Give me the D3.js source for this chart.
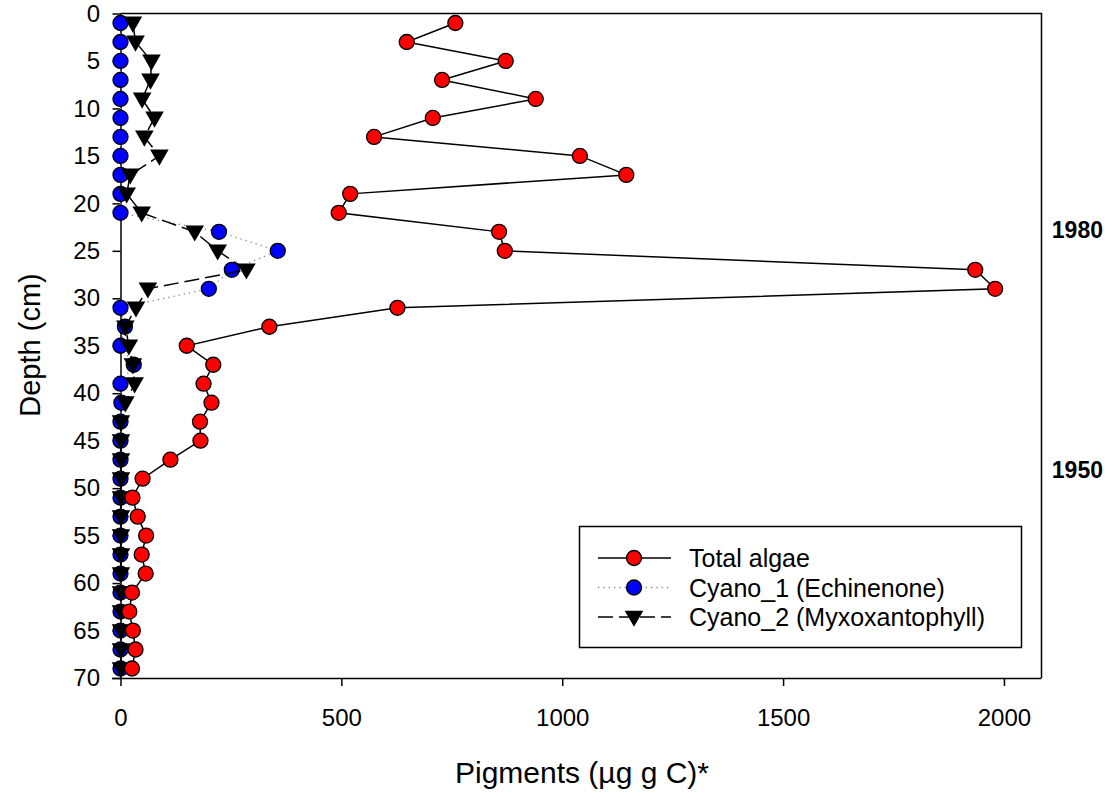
<!DOCTYPE html>
<html>
<head>
<meta charset="utf-8">
<script src="https://cdn.jsdelivr.net/npm/d3@7"></script>
<style>
  body { margin: 0; background: #fff; }
  svg text { font-family: "Liberation Sans", Arial, sans-serif; }
</style>
</head>
<body>
<div id="chart"></div>
<script>
// depth of each slice (cm)
const depths = [1, 3, 5, 7, 9, 11, 13, 15, 17, 19, 21, 23, 25, 27, 29, 31, 33, 35,
                37, 39, 41, 43, 45, 47, 49, 51, 53, 55, 57, 59, 61, 63, 65, 67, 69];

const totalAlgae = [758, 648, 872, 728, 940, 707, 574, 1040, 1145, 520, 494, 857, 870, 1935, 1980, 627,
                    337, 150, 210, 188, 206, 180, 181, 113, 50, 27, 39, 58, 48, 57, 26, 20, 28, 34, 26];

const cyano1 = [0, 0, 0, 0, 0, 0, 0, 0, 0, 0, 0, 223, 356, 252, 200, 0,
                10, 0, 30, 0, 2, 0, 0, 0, 0, 0, 0, 0, 0, 0, 0, 0, 0, 0, 0];

const cyano2 = [28, 34, 70, 68, 49, 77, 54, 88, 22, 14, 48, 168, 220, 285, 62, 35,
                11, 19, 28, 32, 11, 1, 1, 1, 1, 1, 1, 1, 1, 1, 1, 1, 1, 1, 1];

const xTicks = [0, 500, 1000, 1500, 2000];
const yTicks = d3.range(0, 71, 5);

const seriesNames = ["Total algae", "Cyano_1 (Echinenone)", "Cyano_2 (Myxoxantophyll)"];
const yearLabels = [{ year: "1980", depth: 23.6 }, { year: "1950", depth: 48.9 }];

const width = 1113, height = 794;
const svg = d3.select("#chart").append("svg")
    .attr("width", width)
    .attr("height", height);

const x = d3.scaleLinear().domain([0, 2085]).range([120.5, 1041.5]);
const y = d3.scaleLinear().domain([0, 70]).range([13.5, 678]);

// frame (top and right)
svg.append("path")
    .attr("d", `M${x(0)},${y(0)}H${x.range()[1]}V${y(70)}`)
    .attr("fill", "none")
    .attr("stroke", "#000")
    .attr("stroke-width", 1.5);

// axes
const xAxis = svg.append("g")
    .attr("transform", `translate(0,${y(70)})`)
    .call(d3.axisBottom(x).tickValues(xTicks).tickSize(8).tickPadding(23).tickFormat(d3.format("d")));
xAxis.select(".domain").attr("d", `M112,0.5H${x.range()[1]}`);

const yAxis = svg.append("g")
    .attr("transform", `translate(${x(0)},0)`)
    .call(d3.axisLeft(y).tickValues(yTicks).tickSize(8).tickPadding(12.5));
yAxis.select(".domain").attr("d", `M0.5,${y(0)}V${y(70)}`);

svg.selectAll(".tick text").attr("font-size", 24).attr("fill", "#000")
    .style("font-family", "'Liberation Sans', Arial, sans-serif");
svg.selectAll(".tick line, .domain").attr("stroke", "#000").attr("stroke-width", 1.5);

// axis titles
svg.append("text")
    .attr("x", 582).attr("y", 783)
    .attr("text-anchor", "middle")
    .attr("font-size", 30)
    .text("Pigments (µg g C)*");

svg.append("text")
    .attr("transform", `translate(40,345) rotate(-90)`)
    .attr("text-anchor", "middle")
    .attr("font-size", 29)
    .text("Depth (cm)");

// year labels
svg.selectAll(".year")
    .data(yearLabels)
    .join("text")
    .attr("class", "year")
    .attr("x", 1103)
    .attr("y", d => y(d.depth))
    .attr("text-anchor", "end")
    .attr("font-size", 23)
    .attr("font-weight", "bold")
    .text(d => d.year);

const line = vals => d3.line()
    .x((d, i) => x(vals[i]))
    .y(d => y(d))(depths);

const tri = d3.symbol().type(d3.symbolTriangle).size(150);

// Cyano_1
svg.append("path")
    .attr("d", line(cyano1))
    .attr("fill", "none")
    .attr("stroke", "#888")
    .attr("stroke-width", 1.3)
    .attr("stroke-dasharray", "1.3,4");
svg.append("g").selectAll("circle")
    .data(depths)
    .join("circle")
    .attr("cx", (d, i) => x(cyano1[i]))
    .attr("cy", d => y(d))
    .attr("r", 7.5)
    .attr("fill", "#0000ff")
    .attr("stroke", "#000")
    .attr("stroke-width", 1.3);

// Cyano_2
svg.append("path")
    .attr("d", line(cyano2))
    .attr("fill", "none")
    .attr("stroke", "#000")
    .attr("stroke-width", 1.5)
    .attr("stroke-dasharray", "15,6");
svg.append("g").selectAll("path")
    .data(depths)
    .join("path")
    .attr("d", tri)
    .attr("transform", (d, i) => `translate(${x(cyano2[i])},${y(d) - 1}) rotate(180)`)
    .attr("fill", "#000");

// Total algae
svg.append("path")
    .attr("d", line(totalAlgae))
    .attr("fill", "none")
    .attr("stroke", "#000")
    .attr("stroke-width", 1.5);
svg.append("g").selectAll("circle")
    .data(depths)
    .join("circle")
    .attr("cx", (d, i) => x(totalAlgae[i]))
    .attr("cy", d => y(d))
    .attr("r", 7.5)
    .attr("fill", "#ff0000")
    .attr("stroke", "#000")
    .attr("stroke-width", 1.3);

// legend
const legend = svg.append("g");
legend.append("rect")
    .attr("x", 579.5).attr("y", 526.5)
    .attr("width", 442).attr("height", 121)
    .attr("fill", "#fff")
    .attr("stroke", "#000")
    .attr("stroke-width", 1.5);

const rows = legend.selectAll(".row")
    .data(seriesNames)
    .join("g")
    .attr("class", "row")
    .attr("transform", (d, i) => `translate(0,${558 + i * 29.5})`);

rows.append("line")
    .attr("x1", 598).attr("x2", 671)
    .attr("stroke", (d, i) => i === 1 ? "#888" : "#000")
    .attr("stroke-width", 1.5)
    .attr("stroke-dasharray", (d, i) => i === 0 ? null : i === 1 ? "1.3,4" : "15,6");

rows.filter((d, i) => i < 2).append("circle")
    .attr("cx", 634)
    .attr("r", 7.5)
    .attr("fill", (d, i) => i === 0 ? "#ff0000" : "#0000ff")
    .attr("stroke", "#000")
    .attr("stroke-width", 1.3);

rows.filter((d, i) => i === 2).append("path")
    .attr("d", tri)
    .attr("transform", "translate(634,-1) rotate(180)")
    .attr("fill", "#000");

rows.append("text")
    .attr("x", 689)
    .attr("y", 9)
    .attr("font-size", 25)
    .text(d => d);
</script>
</body>
</html>
